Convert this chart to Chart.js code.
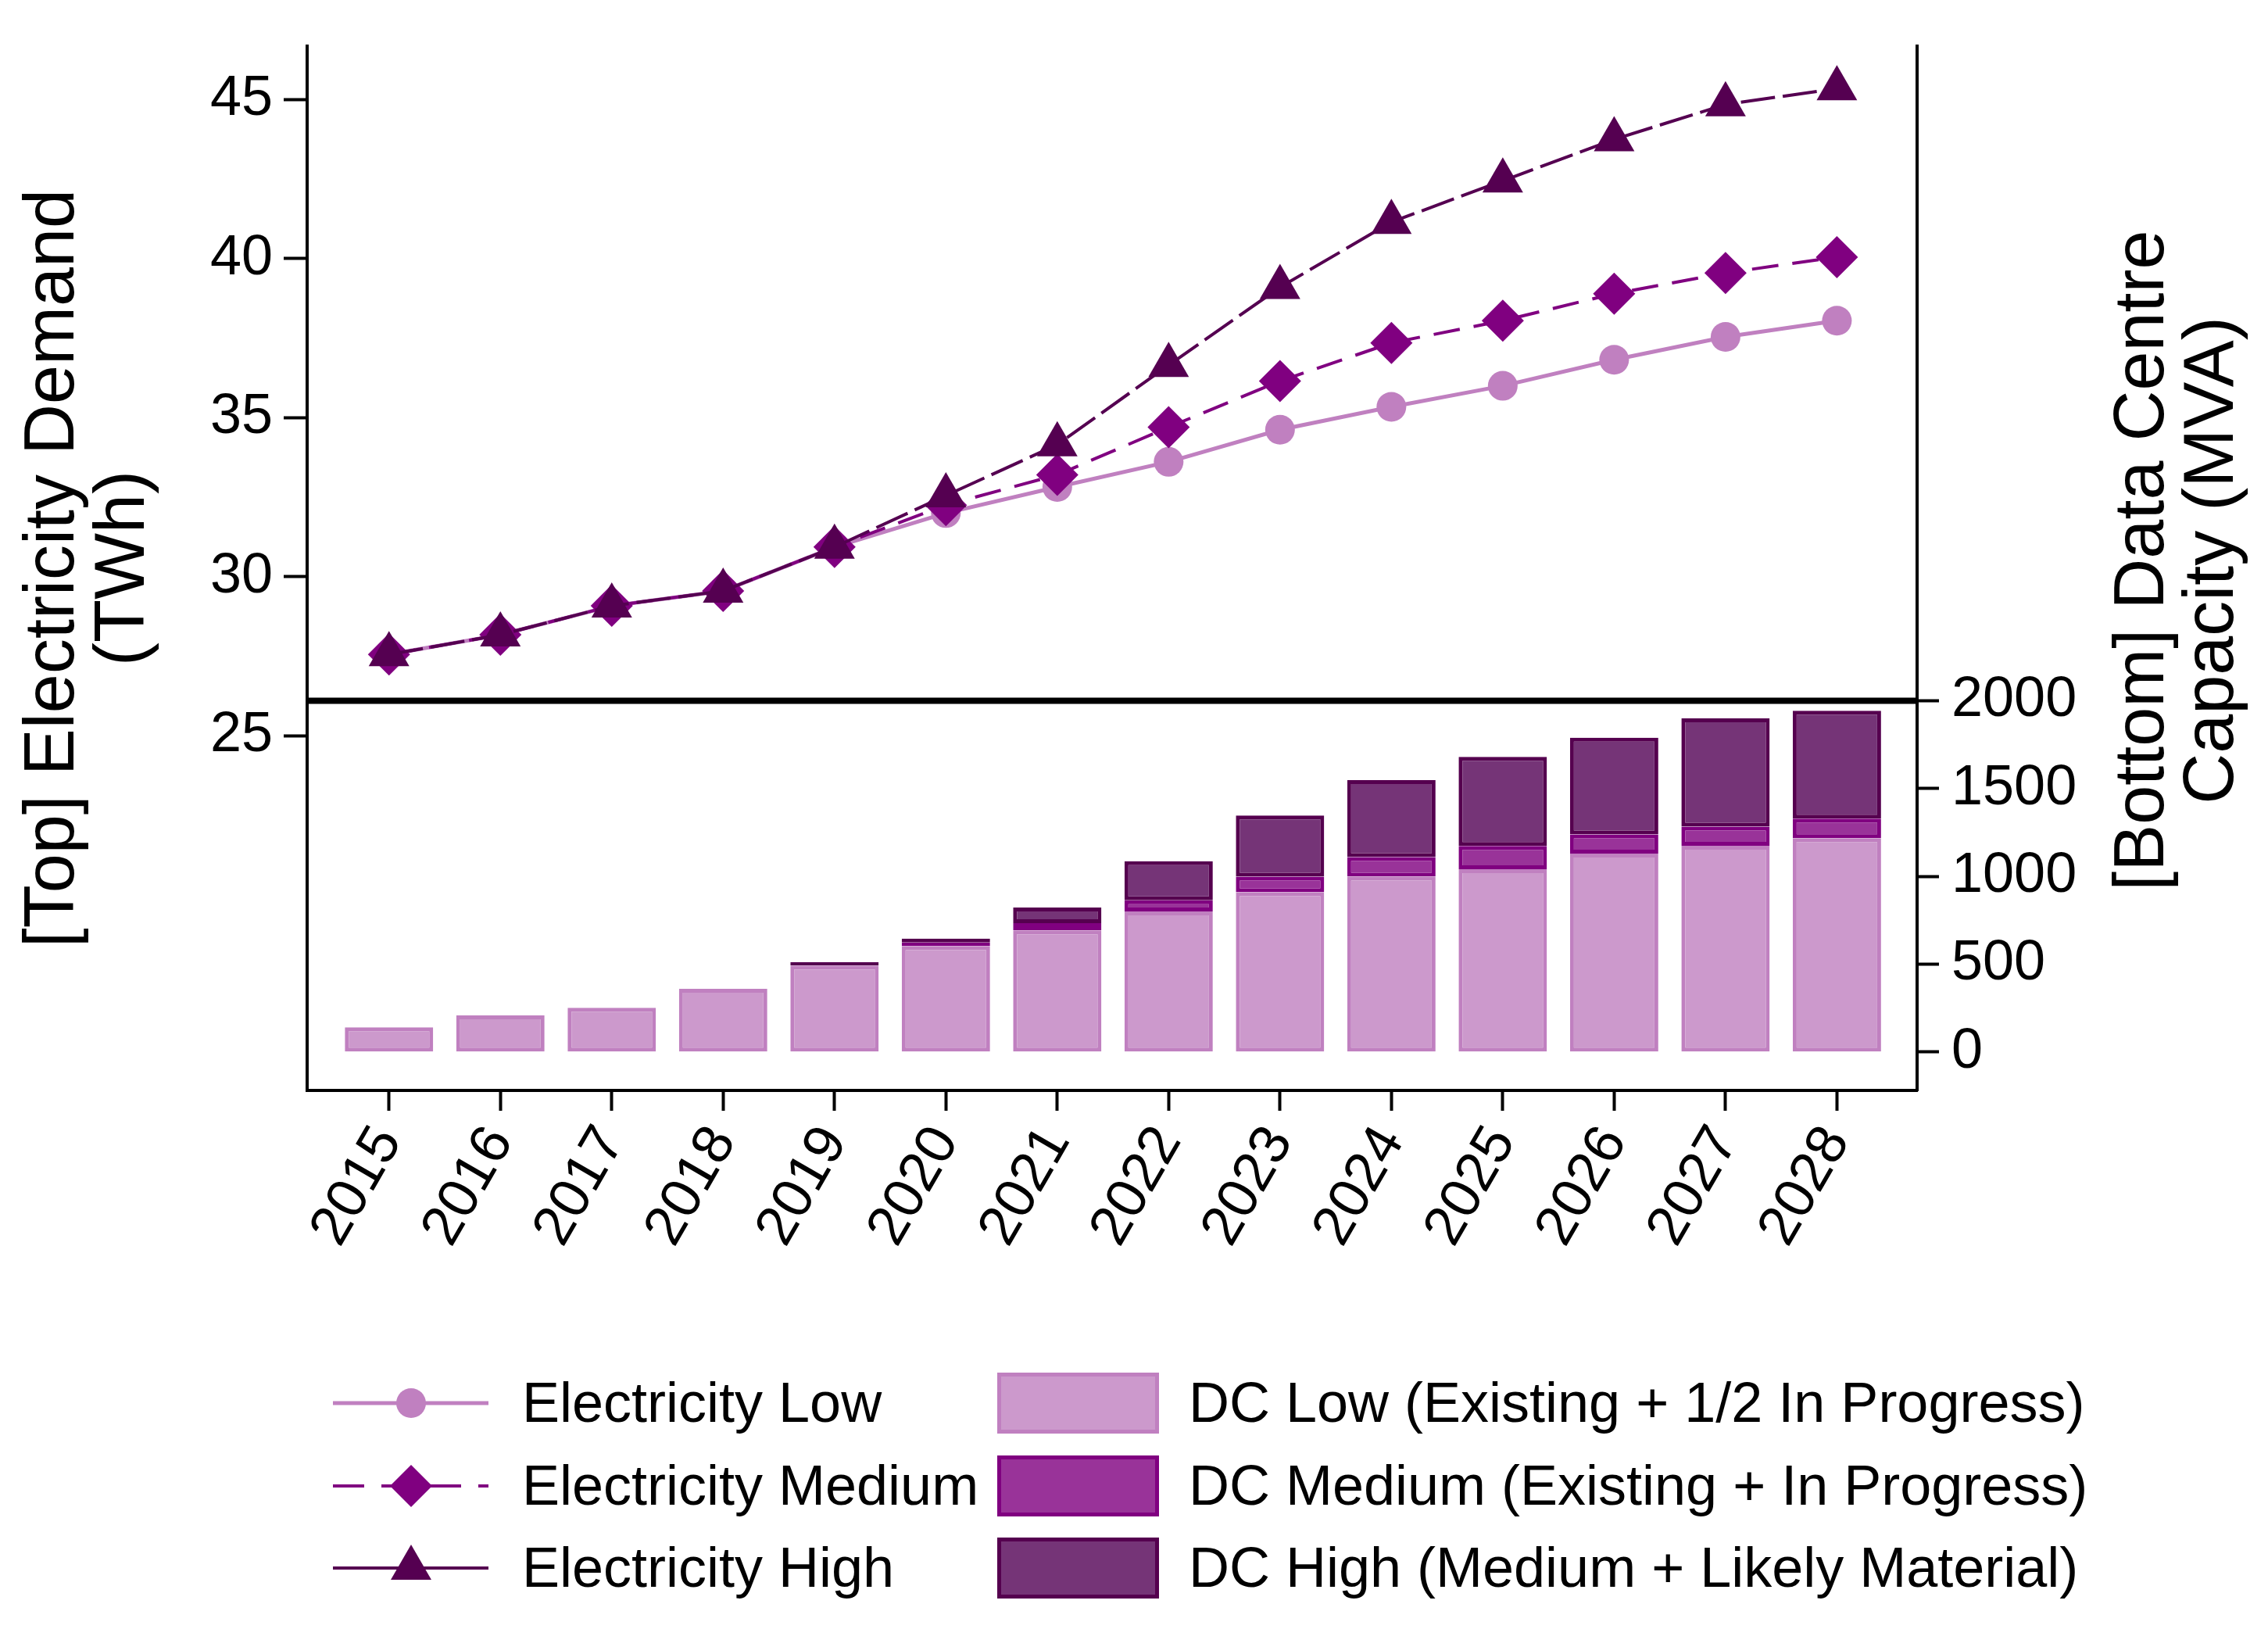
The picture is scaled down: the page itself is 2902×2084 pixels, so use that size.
<!DOCTYPE html>
<html lang="en">
<head>
<meta charset="UTF-8" />
<title>Electricity Demand and Data Centre Capacity</title>
<script src="https://cdn.jsdelivr.net/npm/chart.js@4"></script>
<style>
    html, body { margin: 0; padding: 0; background: #fff; }
    #wrap { width: 2902px; height: 2084px; position: relative; }
</style>
</head>
<body>
<div id="wrap"><canvas id="grafico"></canvas></div>
<script>
    // years on the x axis
    var years = [2015, 2016, 2017, 2018, 2019, 2020, 2021, 2022, 2023, 2024, 2025, 2026, 2027, 2028];

    // [Top] electricity demand, TWh
    var elecLow    = [27.55, 28.17, 29.08, 29.55, 30.93, 32.0, 32.82, 33.61, 34.62, 35.34, 36.0, 36.82, 37.54, 38.05];
    var elecMedium = [27.55, 28.17, 29.08, 29.55, 30.93, 32.25, 33.2, 34.7, 36.15, 37.35, 38.05, 38.9, 39.55, 40.05];
    var elecHigh   = [27.55, 28.17, 29.08, 29.55, 30.93, 32.55, 34.15, 36.65, 39.1, 41.15, 42.45, 43.75, 44.85, 45.35];

    // [Bottom] data centre capacity, MVA (totals of each scenario)
    var dcLow    = [141, 208, 252, 360, 492, 602, 692, 800, 910, 999, 1041, 1130, 1175, 1218];
    var dcMedium = [null, null, null, null, null, 624, 734, 864, 999, 1110, 1173, 1239, 1284, 1329];
    var dcHigh   = [null, null, null, null, 512, 646, 823, 1086, 1347, 1549, 1681, 1790, 1900, 1944];

    var leftTicks = [25, 30, 35, 40, 45];
    var rightTicks = [0, 500, 1000, 1500, 2000];
    var splitValue = 2000;

    var fonte = "'Liberation Sans', Arial, sans-serif";
    Chart.defaults.font.family = fonte;
    Chart.defaults.color = '#000';

    function pontos(valores) {
        return years.map(function (ano, i) { return { x: ano, y: valores[i] }; });
    }

    // floating bars: each scenario drawn from the one below it up to its own total
    function barras(base, topo) {
        return years.map(function (ano, i) {
            if (topo[i] == null) return { x: ano, y: null };
            var inicio = base ? base[i] : 0;
            return { x: ano, y: [inicio, topo[i]] };
        });
    }

    var baseHigh = years.map(function (a, i) { return dcMedium[i] != null ? dcMedium[i] : dcLow[i]; });

    function eixo(extra) {
        var base = {
            border: { display: true, color: '#000', width: 4 },
            grid: { display: true, drawOnChartArea: false, drawTicks: true, tickLength: 30, tickWidth: 4, tickColor: '#000' },
            ticks: { font: { size: 72 }, color: '#000' }
        };
        return Object.assign(base, extra);
    }

    var extras = {
        id: 'extras',
        afterDatasetsDraw: function (chart) {
            var ctx = chart.ctx;
            var area = chart.chartArea;
            var y = chart.scales.y2.getPixelForValue(splitValue);
            ctx.save();
            ctx.strokeStyle = '#000';
            ctx.lineWidth = 8;
            ctx.beginPath();
            ctx.moveTo(area.left, y);
            ctx.lineTo(area.right, y);
            ctx.stroke();
            ctx.restore();
        },
        afterDraw: function (chart) {
            var ctx = chart.ctx;
            var area = chart.chartArea;
            var meio = (area.top + area.bottom) / 2;

            ctx.save();
            ctx.fillStyle = '#000';
            ctx.font = '90px ' + fonte;
            textoVertical(ctx, '[Top] Electricity Demand', 94, meio);
            textoVertical(ctx, '(TWh)', 184, meio);
            textoVertical(ctx, '[Bottom] Data Centre', 2768, meio - 10);
            textoVertical(ctx, 'Capacity (MVA)', 2857, meio - 10);
            ctx.restore();

            desenharLegenda(chart);
        }
    };

    function textoVertical(ctx, texto, x, y) {
        ctx.save();
        ctx.translate(x, y);
        ctx.rotate(-Math.PI / 2);
        ctx.textAlign = 'center';
        ctx.textBaseline = 'alphabetic';
        ctx.fillText(texto, 0, 0);
        ctx.restore();
    }

    function desenharMarcador(ctx, estilo, x, y, r) {
        ctx.beginPath();
        if (estilo === 'circle') {
            ctx.arc(x, y, r, 0, Math.PI * 2);
        } else if (estilo === 'rectRot') {
            ctx.moveTo(x - r, y); ctx.lineTo(x, y - r); ctx.lineTo(x + r, y); ctx.lineTo(x, y + r);
            ctx.closePath();
        } else {
            ctx.moveTo(x, y - r); ctx.lineTo(x + r * 0.866, y + r / 2); ctx.lineTo(x - r * 0.866, y + r / 2);
            ctx.closePath();
        }
        ctx.fill();
    }

    function desenharLegenda(chart) {
        var ctx = chart.ctx;
        var ds = chart.data.datasets;
        var linhas = [1795, 1901, 2006];
        ctx.save();
        ctx.font = '72px ' + fonte;
        ctx.textBaseline = 'middle';
        ctx.textAlign = 'left';

        // column 1: the three electricity lines
        [0, 1, 2].forEach(function (k, row) {
            var d = ds[k];
            var y = linhas[row];
            ctx.strokeStyle = d.borderColor;
            ctx.lineWidth = d.borderWidth;
            ctx.setLineDash(d.legendDash || []);
            ctx.beginPath();
            ctx.moveTo(426, y);
            ctx.lineTo(625, y);
            ctx.stroke();
            ctx.setLineDash([]);
            ctx.fillStyle = d.pointBackgroundColor;
            desenharMarcador(ctx, d.pointStyle, 526, y, d.pointRadius);
            ctx.fillStyle = '#000';
            ctx.fillText(d.label, 668, y + 4);
        });

        // column 2: the three data centre bars
        [3, 4, 5].forEach(function (k, row) {
            var d = ds[k];
            var y = linhas[row];
            var w = 207, h = 78, x = 1276;
            ctx.fillStyle = d.borderColor;
            ctx.fillRect(x, y - h / 2, w, h);
            ctx.fillStyle = d.backgroundColor;
            ctx.fillRect(x + 5, y - h / 2 + 5, w - 10, h - 10);
            ctx.fillStyle = '#000';
            ctx.fillText(d.label, 1521, y + 4);
        });
        ctx.restore();
    }

    var ctx = document.getElementById('grafico').getContext('2d');
    new Chart(ctx, {
        data: {
            datasets: [
                {
                    type: 'line', label: 'Electricity Low', data: pontos(elecLow), yAxisID: 'y', order: 2,
                    borderColor: '#c080c0', borderWidth: 5, legendDash: [],
                    pointStyle: 'circle', pointRadius: 19, pointBackgroundColor: '#c080c0', pointBorderWidth: 0
                },
                {
                    type: 'line', label: 'Electricity Medium', data: pontos(elecMedium), yAxisID: 'y', order: 1,
                    borderColor: '#800080', borderWidth: 4, borderDash: [34, 18], legendDash: [40, 22],
                    pointStyle: 'rectRot', pointRadius: 27, pointBackgroundColor: '#800080', pointBorderWidth: 0
                },
                {
                    type: 'line', label: 'Electricity High', data: pontos(elecHigh), yAxisID: 'y', order: 0,
                    borderColor: '#550051', borderWidth: 4, borderDash: [44, 10], legendDash: [],
                    pointStyle: 'triangle', pointRadius: 30, pointBackgroundColor: '#550051', pointBorderWidth: 0
                },
                {
                    type: 'bar', label: 'DC Low (Existing + 1/2 In Progress)', data: barras(null, dcLow), yAxisID: 'y2', order: 3,
                    backgroundColor: '#cc99cc', borderColor: '#c080c0', borderWidth: 5, borderSkipped: false
                },
                {
                    type: 'bar', label: 'DC Medium (Existing + In Progress)', data: barras(dcLow, dcMedium), yAxisID: 'y2', order: 3,
                    backgroundColor: '#993399', borderColor: '#800080', borderWidth: 5, borderSkipped: false
                },
                {
                    type: 'bar', label: 'DC High (Medium + Likely Material)', data: barras(baseHigh, dcHigh), yAxisID: 'y2', order: 3,
                    backgroundColor: '#753477', borderColor: '#55004f', borderWidth: 5, borderSkipped: false
                }
            ]
        },
        options: {
            responsive: true,
            maintainAspectRatio: false,
            devicePixelRatio: 1,
            animation: false,
            layout: { padding: { top: 58, left: 0, right: 0, bottom: 0 } },
            datasets: {
                bar: { grouped: false, barPercentage: 1, categoryPercentage: 0.793 }
            },
            plugins: {
                legend: { display: false },
                tooltip: { enabled: false }
            },
            scales: {
                x: eixo({
                    type: 'linear',
                    position: 'bottom',
                    offset: false,
                    min: 2014.265,
                    max: 2028.72,
                    grid: { display: true, offset: false, drawOnChartArea: false, drawTicks: true, tickLength: 26, tickWidth: 4, tickColor: '#000' },
                    ticks: {
                        font: { size: 72 }, color: '#000', autoSkip: false,
                        minRotation: 60, maxRotation: 60, padding: 6,
                        callback: function (v) { return String(v); }
                    },
                    afterBuildTicks: function (s) { s.ticks = years.map(function (v) { return { value: v }; }); },
                    afterFit: function (s) { s.height = 689; }
                }),
                y: eixo({
                    type: 'linear',
                    position: 'left',
                    min: 13.84,
                    max: 46.68,
                    ticks: { font: { size: 72 }, color: '#000', padding: 14, callback: function (v) { return String(v); } },
                    afterBuildTicks: function (s) { s.ticks = leftTicks.map(function (v) { return { value: v }; }); },
                    afterFit: function (s) { s.width = 393; }
                }),
                y2: eixo({
                    type: 'linear',
                    position: 'right',
                    min: -219,
                    max: 5728,
                    grid: { display: true, drawOnChartArea: false, drawTicks: true, tickLength: 28, tickWidth: 4, tickColor: '#000' },
                    ticks: { font: { size: 72 }, color: '#000', padding: 16, callback: function (v) { return String(v); } },
                    afterBuildTicks: function (s) { s.ticks = rightTicks.map(function (v) { return { value: v }; }); },
                    afterFit: function (s) { s.width = 449; }
                })
            }
        },
        plugins: [extras]
    });
</script>
</body>
</html>
